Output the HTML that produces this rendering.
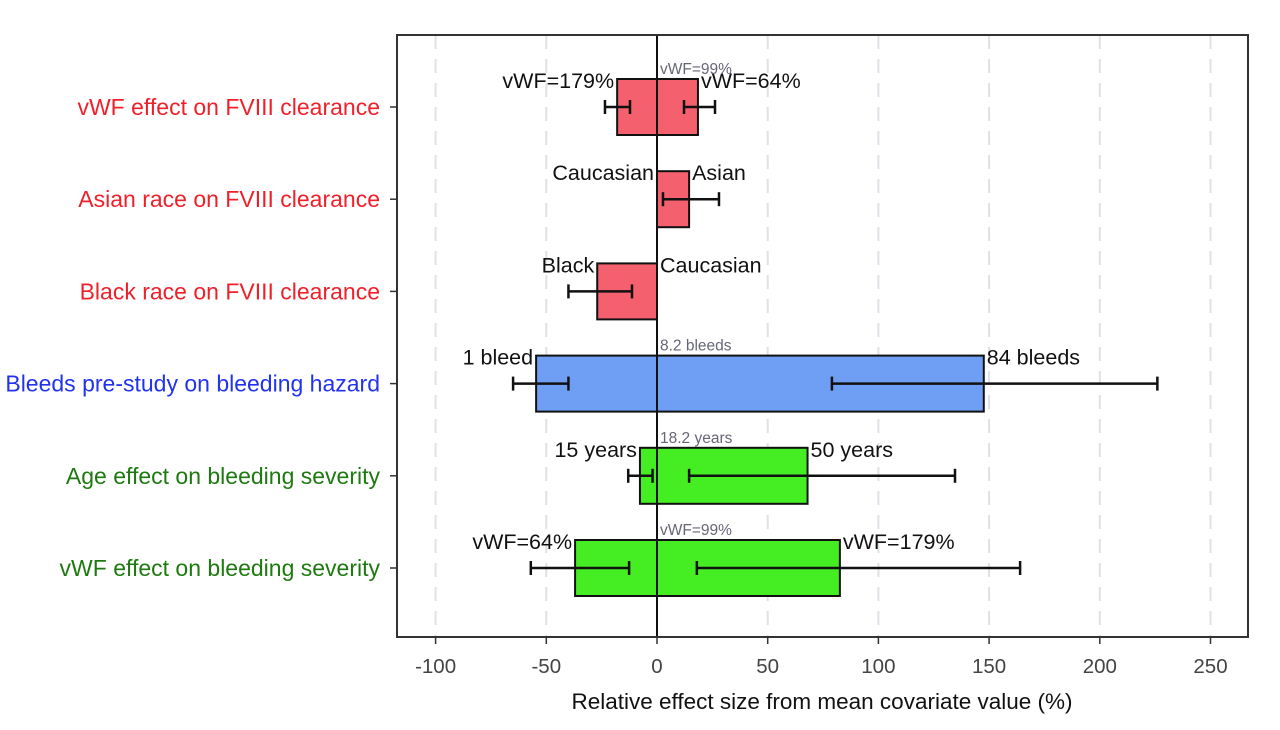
<!DOCTYPE html>
<html><head><meta charset="utf-8"><style>
body{margin:0;background:#fff;}
svg text{font-family:"Liberation Sans",sans-serif;}
</style></head><body>
<svg id="c" width="1280" height="725"></svg>
<script>
const categories=["vWF effect on FVIII clearance","Asian race on FVIII clearance","Black race on FVIII clearance","Bleeds pre-study on bleeding hazard","Age effect on bleeding severity","vWF effect on bleeding severity"];
const catColors=["#f0202a","#f0202a","#f0202a","#2233ee","#1e7a10","#1e7a10"];
const barLow=[-18,0,-27,-54.6,-7.7,-37];
const barHigh=[18.5,14.5,0,147.6,68,82.6];
const errLowA=[-23.5,null,-40,-65,-13,-57];
const errLowB=[-12.2,null,-11.3,-40,-2,-12.6];
const errHighA=[12.2,2.7,null,79,14.5,18];
const errHighB=[26.2,28,null,226,134.6,164];
const lowLabels=["vWF=179%","Caucasian","Black","1 bleed","15 years","vWF=64%"];
const highLabels=["vWF=64%","Asian","Caucasian","84 bleeds","50 years","vWF=179%"];
const midLabels=["vWF=99%","","","8.2 bleeds","18.2 years","vWF=99%"];
const fills=["#f5606e","#f5606e","#f5606e","#6f9ff5","#44ee22","#44ee22"];
const ticks=[-100,-50,0,50,100,150,200,250];
const svg=document.getElementById('c');
const NS="http://www.w3.org/2000/svg";
const x=v=>657+v*2.214;
const y=i=>107+i*92.2;
function mk(t,a,txt){const e=document.createElementNS(NS,t);for(const k in a)e.setAttribute(k,a[k]);if(txt!==undefined)e.textContent=txt;svg.appendChild(e);return e;}
ticks.forEach(t=>{if(t!==0){const g=mk('line',{x1:x(t),x2:x(t),y1:35,y2:637,stroke:'#dde2e6','stroke-width':2,'stroke-dasharray':'14,10'});

}
const l=mk('text',{x:x(t),y:673,'text-anchor':'middle','font-size':20.5,fill:'#444'},t);


mk('line',{x1:x(t),x2:x(t),y1:637,y2:644,stroke:'#333','stroke-width':1.5});});
categories.forEach((c,i)=>{const yy=y(i);
const b=mk('rect',{x:x(barLow[i]),y:yy-28,width:x(barHigh[i])-x(barLow[i]),height:56,fill:fills[i],stroke:'#111','stroke-width':2});


[[errLowA[i],errLowB[i]],[errHighA[i],errHighB[i]]].forEach(p=>{if(p[0]===null)return;
mk('line',{x1:x(p[0]),x2:x(p[1]),y1:yy,y2:yy,stroke:'#111','stroke-width':2.5});
mk('line',{x1:x(p[0]),x2:x(p[0]),y1:yy-7,y2:yy+7,stroke:'#111','stroke-width':2.5});
mk('line',{x1:x(p[1]),x2:x(p[1]),y1:yy-7,y2:yy+7,stroke:'#111','stroke-width':2.5});});
const t=mk('text',{x:380,y:yy+8,'text-anchor':'end','font-size':23,fill:catColors[i]},c);


mk('line',{x1:390,x2:397,y1:yy,y2:yy,stroke:'#333','stroke-width':1.5});
mk('text',{x:x(barLow[i])-3,y:yy-19,'text-anchor':'end','font-size':21.5,fill:'#111'},lowLabels[i]);
mk('text',{x:x(barHigh[i])+3,y:yy-19,'font-size':21.5,fill:'#111'},highLabels[i]);
if(midLabels[i])mk('text',{x:660,y:yy-33,'font-size':15.5,fill:'#667'},midLabels[i]);
});
mk('line',{x1:657,x2:657,y1:35,y2:637,stroke:'#111','stroke-width':2});
const f=mk('rect',{x:397,y:35,width:851,height:602,fill:'none',stroke:'#333','stroke-width':2});


const xt=mk('text',{x:822,y:709,'text-anchor':'middle','font-size':22.5,fill:'#111'},'Relative effect size from mean covariate value (%)');


</script>
</body></html>
